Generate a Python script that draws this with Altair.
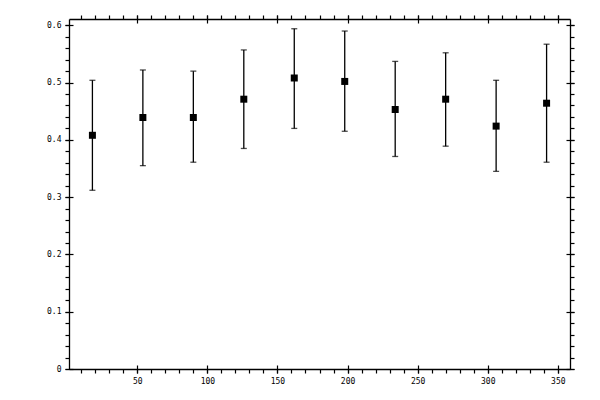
import altair as alt
import pandas as pd

xs = [18, 54, 90, 126, 162, 198, 234, 270, 306, 342]
ys = [0.408, 0.439, 0.439, 0.471, 0.508, 0.502, 0.453, 0.471, 0.424, 0.464]
lo = [0.312, 0.355, 0.361, 0.385, 0.420, 0.415, 0.371, 0.389, 0.345, 0.361]
hi = [0.504, 0.522, 0.520, 0.557, 0.594, 0.590, 0.537, 0.552, 0.504, 0.567]

x_major = [50, 100, 150, 200, 250, 300, 350]
x_minor = list(range(10, 360, 10))
y_major = [0.0, 0.1, 0.2, 0.3, 0.4, 0.5, 0.6]
y_minor = [round(i * 0.02, 2) for i in range(0, 31)]

df = pd.DataFrame({"x": xs, "y": ys, "lo": lo, "hi": hi})

xscale = alt.Scale(domain=[1.3, 358.7], nice=False, zero=False)
yscale = alt.Scale(domain=[0, 0.611], nice=False, zero=False)

font = "DejaVu Sans Mono"

def ax(orient, values, labels=False, tick=4, offset=0, domain=True, fmt=None, expr=None):
    kw = dict(orient=orient, values=values, title=None, grid=False, labels=labels,
              tickSize=tick, tickColor="black", tickWidth=1.2, domain=domain,
              domainColor="black", domainWidth=1.3, offset=offset)
    if labels:
        kw.update(labelFont=font, labelFontSize=8, labelColor="black",
                  labelPadding=4, labelFlush=False, labelOverlap=False)
        if fmt:
            kw["format"] = fmt
        if expr:
            kw["labelExpr"] = expr
    return alt.Axis(**kw)

base = alt.Chart(df)

points = base.mark_square(size=49, color="black", opacity=1, filled=True).encode(
    x=alt.X("x:Q", scale=xscale,
            axis=ax("bottom", x_minor, labels=True, expr="datum.value % 50 == 0 ? datum.label : ''")),
    y=alt.Y("y:Q", scale=yscale,
            axis=ax("left", y_minor, labels=True, fmt="~g",
                    expr="round(datum.value*50) % 5 == 0 ? datum.label : ''")),
)

rules = base.mark_rule(color="black", strokeWidth=1.3).encode(
    x=alt.X("x:Q", scale=xscale, axis=ax("top", x_minor)),
    y=alt.Y("lo:Q", scale=yscale, axis=ax("right", y_minor)),
    y2="hi:Q",
)

cap_hi = base.mark_tick(color="black", thickness=1.3, size=6, orient="horizontal").encode(
    x=alt.X("x:Q", scale=xscale, axis=ax("bottom", x_major, tick=8, offset=-4, domain=False)),
    y=alt.Y("hi:Q", scale=yscale, axis=ax("left", y_major, tick=8, offset=-4, domain=False)),
)

cap_lo = base.mark_tick(color="black", thickness=1.3, size=6, orient="horizontal").encode(
    x=alt.X("x:Q", scale=xscale, axis=ax("top", x_major, tick=8, offset=-4, domain=False)),
    y=alt.Y("lo:Q", scale=yscale, axis=ax("right", y_major, tick=8, offset=-4, domain=False)),
)

chart = alt.layer(rules, cap_hi, cap_lo, points).resolve_axis(
    x="independent", y="independent"
).properties(
    width=501, height=350,
    autosize=alt.AutoSizeParams(type="none"),
    padding={"left": 61, "top": 11, "right": 22, "bottom": 30},
    background="white",
).configure_view(stroke=None)

chart.save("out.html", embed_options={"renderer": "svg", "actions": False})
